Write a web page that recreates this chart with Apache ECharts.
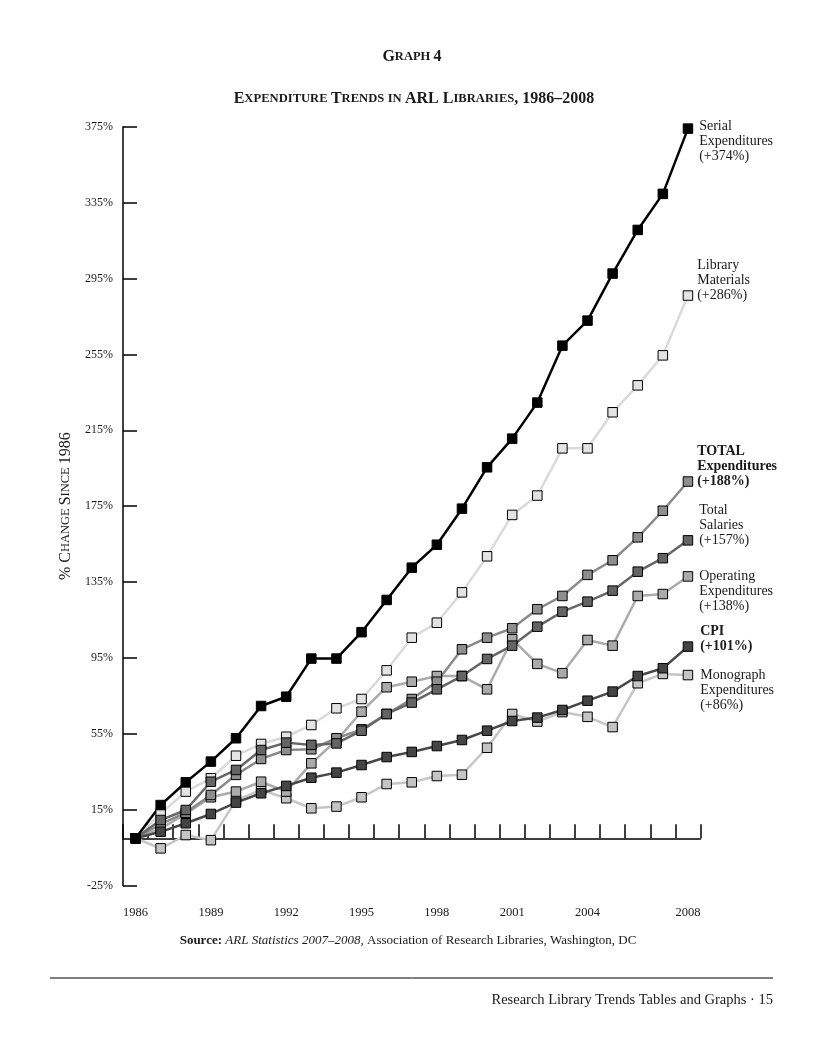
<!DOCTYPE html>
<html><head><meta charset="utf-8">
<script src="https://cdn.jsdelivr.net/npm/echarts@6/dist/echarts.min.js"></script>
<style>html,body{margin:0;padding:0;background:#fff}#c{width:824px;height:1050px}</style>
</head><body><div id="c"></div>
<script>
// ---- data ----
const years = ['1986','1987','1988','1989','1990','1991','1992','1993','1994','1995','1996','1997',
  '1998','1999','2000','2001','2002','2003','2004','2005','2006','2007','2008'];
const tickLabels = ['1986','1989','1992','1995','1998','2001','2004','2008'];
const serial    = [0, 17.5, 29.5, 40.4, 52.7, 69.7, 74.6, 94.7, 94.7, 108.6, 125.6, 142.6, 154.7, 173.7, 195.5, 210.6, 229.6, 259.6, 272.8, 297.6, 320.6, 339.6, 374];
const library   = [0, 13, 24.6, 31.6, 43.5, 49.7, 53.5, 59.7, 68.5, 73.4, 88.5, 105.7, 113.6, 129.6, 148.6, 170.4, 180.6, 205.5, 205.5, 224.5, 238.7, 254.5, 286];
const totalExp  = [0, 7.4, 13.5, 22.8, 33.4, 41.8, 46.5, 46.9, 52.7, 57.4, 65.5, 73.4, 82.5, 99.6, 105.7, 110.7, 120.7, 127.7, 138.8, 146.5, 158.6, 172.6, 188];
const salaries  = [0, 9.6, 14.9, 29.8, 36, 46.5, 50.4, 49.2, 50, 56.7, 65.5, 71.5, 78.5, 85.5, 94.5, 101.5, 111.5, 119.4, 124.7, 130.5, 140.5, 147.6, 157];
const operating = [0, 5, 13, 21.6, 24.6, 29.8, 24.6, 39.5, 51.5, 66.7, 79.6, 82.5, 85.5, 85.5, 78.5, 104.9, 91.9, 87, 104.5, 101.5, 127.7, 128.7, 138];
const cpi       = [0, 3.4, 7.9, 12.8, 18.8, 23.7, 27.6, 31.9, 34.6, 38.6, 42.8, 45.5, 48.6, 51.8, 56.7, 61.8, 63.6, 67.6, 72.5, 77.3, 85.5, 89.6, 101];
const monograph = [0, -5.3, 1.7, -1, 20, 25.5, 21.1, 15.8, 16.7, 21.6, 28.6, 29.5, 32.8, 33.5, 47.7, 65.5, 61.5, 66.5, 64, 58.6, 81.7, 86.6, 86];
const endLabels = {
  serial: 'Serial\nExpenditures\n(+374%)',
  library: 'Library\nMaterials\n(+286%)',
  totalExp: 'TOTAL\nExpenditures\n(+188%)',
  salaries: 'Total\nSalaries\n(+157%)',
  operating: 'Operating\nExpenditures\n(+138%)',
  cpi: 'CPI\n(+101%)',
  monograph: 'Monograph\nExpenditures\n(+86%)'
};

const FONT = 'Liberation Serif';
const TXT = '#1a1a1a';

function mkSeries(name, values, lineColor, fillColor, text, dx, dy, bold) {
  const last = values.length - 1;
  return {
    name, type: 'line', xAxisIndex: 0, yAxisIndex: 0,
    symbol: 'rect', symbolSize: 9.5, showAllSymbol: true,
    lineStyle: { color: lineColor, width: 2.5 },
    itemStyle: { color: fillColor, borderColor: '#000', borderWidth: 1 },
    emphasis: { disabled: true },
    data: values.map((v, i) => i === last ? {
      value: v,
      label: {
        show: true, formatter: text, position: 'right', distance: dx,
        offset: [0, dy], fontFamily: FONT, fontSize: 14, lineHeight: 15,
        color: TXT, fontWeight: bold ? 'bold' : 'normal', align: 'left'
      }
    } : v)
  };
}

const chart = echarts.init(document.getElementById('c'), null, { renderer: 'canvas' });
const option = {
  animation: false,
  backgroundColor: '#fff',
  grid: { left: 123, top: 126.7, right: 123.5, bottom: 164.3, containLabel: false },
  xAxis: [
    {
      type: 'category', data: years, boundaryGap: true, position: 'bottom',
      axisLine: { onZero: true, lineStyle: { color: '#000', width: 1.5 } },
      axisTick: { show: true, inside: true, length: 14, interval: 0, lineStyle: { color: '#000', width: 1.5 } },
      axisLabel: { show: false }, splitLine: { show: false }
    },
    {
      type: 'category', data: years, boundaryGap: true, position: 'bottom',
      axisLine: { show: false, onZero: false }, axisTick: { show: false }, splitLine: { show: false },
      axisLabel: {
        show: true, margin: 21, fontFamily: FONT, fontSize: 12.5, color: TXT,
        interval: (idx, val) => tickLabels.includes(val)
      }
    }
  ],
  yAxis: {
    type: 'value', min: -25, max: 375, interval: 40,
    axisLine: { show: true, lineStyle: { color: '#000', width: 1.5 } },
    axisTick: { show: true, inside: true, length: 14, lineStyle: { color: '#000', width: 1.5 } },
    splitLine: { show: false },
    axisLabel: { formatter: '{value}%', fontFamily: FONT, fontSize: 12, color: TXT, margin: 10 },
    name: '{b|% C}{s|HANGE} {b|S}{s|INCE} {b|1986}',
    nameLocation: 'middle', nameGap: 46,
    nameTextStyle: {
      fontFamily: FONT, color: TXT,
      rich: { b: { fontFamily: FONT, fontSize: 16, color: TXT }, s: { fontFamily: FONT, fontSize: 12.5, color: TXT } }
    }
  },
  series: [
    mkSeries('Library Materials', library, '#dadada', '#e3e3e3', endLabels.library, 4, -15, false),
    mkSeries('Monograph Expenditures', monograph, '#c6c6c6', '#c4c4c4', endLabels.monograph, 7, 15, false),
    mkSeries('Operating Expenditures', operating, '#ababab', '#aaaaaa', endLabels.operating, 6, 15, false),
    mkSeries('TOTAL Expenditures', totalExp, '#8a8a8a', '#8e8e8e', endLabels.totalExp, 4, -15, true),
    mkSeries('Total Salaries', salaries, '#666666', '#646464', endLabels.salaries, 6, -15, false),
    mkSeries('CPI', cpi, '#484848', '#444444', endLabels.cpi, 7, -7.5, true),
    mkSeries('Serial Expenditures', serial, '#000000', '#000000', endLabels.serial, 6, 13, false)
  ],
  graphic: [
    { type: 'text', x: 412, y: 57, style: {
      text: '{b|G}{s|RAPH} {b|4}', align: 'center', verticalAlign: 'middle',
      rich: { b: { fontFamily: FONT, fontSize: 16, fontWeight: 'bold', fill: TXT },
              s: { fontFamily: FONT, fontSize: 12.5, fontWeight: 'bold', fill: TXT } } } },
    { type: 'text', x: 414, y: 99, style: {
      text: '{b|E}{s|XPENDITURE} {b|T}{s|RENDS} {s|IN} {b|ARL L}{s|IBRARIES}{b|, 1986–2008}',
      align: 'center', verticalAlign: 'middle',
      rich: { b: { fontFamily: FONT, fontSize: 16, fontWeight: 'bold', fill: TXT },
              s: { fontFamily: FONT, fontSize: 12.6, fontWeight: 'bold', fill: TXT } } } },
    { type: 'text', x: 408, y: 941, style: {
      text: '{b|Source:} {i|ARL Statistics 2007–2008,} {r|Association of Research Libraries, Washington, DC}',
      align: 'center', verticalAlign: 'middle',
      rich: { b: { fontFamily: FONT, fontSize: 13, fontWeight: 'bold', fill: TXT },
              i: { fontFamily: FONT, fontSize: 13, fontStyle: 'italic', fill: TXT },
              r: { fontFamily: FONT, fontSize: 13, fill: TXT } } } },
    { type: 'line', shape: { x1: 50, y1: 978, x2: 773, y2: 978 }, style: { stroke: '#000', lineWidth: 1 } },
    { type: 'text', x: 773, y: 1000, style: {
      text: 'Research Library Trends Tables and Graphs · 15', align: 'right', verticalAlign: 'middle',
      fontFamily: FONT, fontSize: 14.5, fill: TXT } }
  ]
};
chart.setOption(option);
</script>
</body></html>
